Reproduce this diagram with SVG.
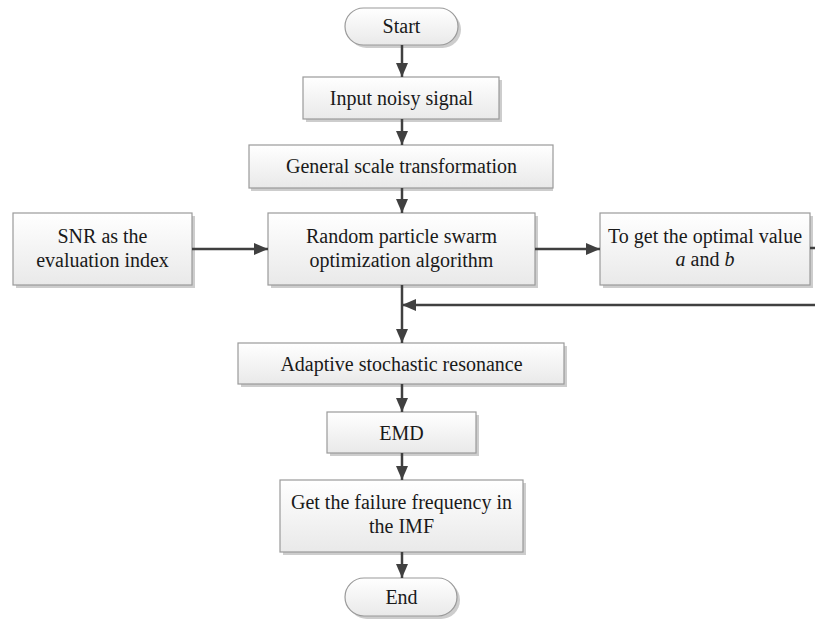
<svg xmlns="http://www.w3.org/2000/svg" width="815" height="620" viewBox="0 0 815 620">
<defs>
<linearGradient id="g" x1="0" y1="0" x2="0" y2="1">
<stop offset="0" stop-color="#ffffff"/>
<stop offset="1" stop-color="#e9e9e9"/>
</linearGradient>
<marker id="ah" viewBox="0 0 14 12" refX="14" refY="6" markerWidth="14" markerHeight="12" markerUnits="userSpaceOnUse" orient="auto">
<path d="M0,0 L14,6 L0,12 Z" fill="#404040"/>
</marker>
</defs>
<style>
.box{fill:url(#g);stroke:#9a9a9a;stroke-width:1.2}
.sh{fill:#b8b8b8;opacity:0.7}
.t{font-family:'Liberation Serif','Times New Roman',Times,'DejaVu Serif',serif;font-size:20px;fill:#1a1a1a;text-anchor:middle}
.c{fill:none;stroke:#404040;stroke-width:2.5}
</style>
<rect width="815" height="620" fill="#ffffff"/>
<g id="start">
<rect class="sh" x="348" y="11" width="113" height="37" rx="18.5"/>
<rect class="box" x="345" y="8" width="113" height="37" rx="18.5"/>
<text class="t" font-family="Liberation Serif, serif" x="401.5" y="33">Start</text>
</g>
<g id="input">
<rect class="sh" x="306" y="80" width="196" height="42"/>
<rect class="box" x="303" y="77" width="196" height="42"/>
<text class="t" x="401.5" y="105">Input noisy signal</text>
</g>
<g id="gst">
<rect class="sh" x="251" y="148" width="302" height="43"/>
<rect class="box" x="249" y="145" width="304" height="43"/>
<text class="t" x="401.5" y="173">General scale transformation</text>
</g>
<g id="snr">
<rect class="sh" x="16" y="216" width="179" height="72"/>
<rect class="box" x="13" y="213" width="179" height="72"/>
<text class="t" x="102.5" y="243">SNR as the</text>
<text class="t" x="102.5" y="267">evaluation index</text>
</g>
<g id="rpso">
<rect class="sh" x="271" y="216" width="267" height="72"/>
<rect class="box" x="268" y="213" width="267" height="72"/>
<text class="t" x="401.5" y="243">Random particle swarm</text>
<text class="t" x="401.5" y="267">optimization algorithm</text>
</g>
<g id="opt">
<rect class="sh" x="603" y="216" width="210" height="72"/>
<rect class="box" x="600" y="213" width="210" height="72"/>
<text class="t" x="705" y="243">To get the optimal value</text>
<text class="t" x="705" y="266"><tspan font-style="italic">a</tspan> and <tspan font-style="italic">b</tspan></text>
</g>
<g id="asr">
<rect class="sh" x="241" y="346" width="326" height="41"/>
<rect class="box" x="238" y="343" width="326" height="41"/>
<text class="t" x="401.5" y="371">Adaptive stochastic resonance</text>
</g>
<g id="emd">
<rect class="sh" x="330" y="415" width="149" height="41"/>
<rect class="box" x="327" y="412" width="149" height="41"/>
<text class="t" x="401.5" y="440">EMD</text>
</g>
<g id="fail">
<rect class="sh" x="283" y="483" width="243" height="72"/>
<rect class="box" x="280" y="480" width="243" height="72"/>
<text class="t" x="401.5" y="509">Get the failure frequency in</text>
<text class="t" x="401.5" y="533">the IMF</text>
</g>
<g id="end">
<rect class="sh" x="348" y="581" width="112" height="38" rx="19"/>
<rect class="box" x="345" y="578" width="112" height="38" rx="19"/>
<text class="t" x="401.5" y="604">End</text>
</g>
<g id="connectors">
<path class="c" d="M402,45 V77" marker-end="url(#ah)"/>
<path class="c" d="M402,119 V145" marker-end="url(#ah)"/>
<path class="c" d="M402,188 V213" marker-end="url(#ah)"/>
<path class="c" d="M402,285 V343" marker-end="url(#ah)"/>
<path class="c" d="M402,384 V412" marker-end="url(#ah)"/>
<path class="c" d="M402,453 V480" marker-end="url(#ah)"/>
<path class="c" d="M402,552 V578" marker-end="url(#ah)"/>
<path class="c" d="M192,249 H268" marker-end="url(#ah)"/>
<path class="c" d="M535,249 H600" marker-end="url(#ah)"/>
<path class="c" d="M810,248 H830 V305 H402" marker-end="url(#ah)"/>
</g>
</svg>
